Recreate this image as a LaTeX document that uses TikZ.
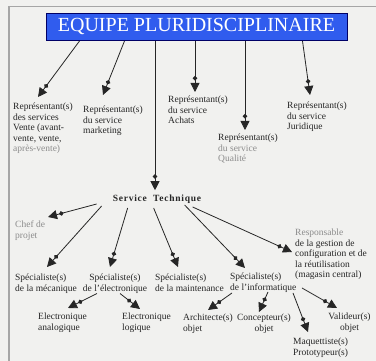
\documentclass[tikz,border=0pt]{standalone}
\usepackage{fontspec}
\setmainfont{Liberation Serif}
\usetikzlibrary{arrows.meta}

\definecolor{titleblue}{RGB}{48,92,238}
\definecolor{paper}{RGB}{241,241,239}

\tikzset{
  lbl/.style={align=left,inner sep=0pt,anchor=north west,text=black!85,
    font=\fontsize{9.5}{10.5}\selectfont},
  lblc/.style={lbl,align=center,anchor=north},
  flow/.style={draw=black!85,line width=0.8pt,
    -{Circle[length=4.5pt,sep=2.5pt]Triangle[length=9pt,width=9pt]}},
}
\newcommand{\faded}[1]{\textcolor{black!45}{#1}}

\begin{document}
\begin{tikzpicture}[x=1pt,y=-1pt]
\fill[paper] (0,0) rectangle (376,361);
\useasboundingbox (0,0) rectangle (376,361);
\draw[gray!70,line width=1pt] (9,361) -- (9,7) -- (376,7);

% titre
\node[fill=titleblue,draw=black!60!blue,line width=1pt,text=white,
  minimum width=301,minimum height=27,inner sep=0pt,
  font=\fontsize{20}{24}\selectfont] (equipe) at (196.5,27) {EQUIPE PLURIDISCIPLINAIRE};

% representants
\node[lbl] (vente) at (13,103) {Représentant(s)\\des services\\Vente (avant-\\vente, vente,\\\faded{après-vente)}};
\node[lbl] (marketing) at (83,106) {Représentant(s)\\du service\\marketing};
\node[lbl] (achats) at (168,96) {Représentant(s)\\du service\\Achats};
\node[lbl] (qualite) at (218,134) {Représentant(s)\\\faded{du service}\\\faded{Qualité}};
\node[lbl] (juridique) at (287,102) {Représentant(s)\\du service\\Juridique};

\node[lbl,anchor=base,font=\fontsize{9.5}{10.5}\selectfont\bfseries\addfontfeature{LetterSpace=8}]
  (tech) at (157,202) {Service\ \ Technique};

\draw[flow] ([xshift=34]equipe.south west) -- ([shift={(25,-6)}]vente.north west);
\draw[flow] ([xshift=79]equipe.south west) -- ([shift={(20,-11)}]marketing.north west);
\coordinate (techIn) at ([xshift=-2pt,yshift=5pt]tech.north);
\draw[flow] (equipe.south -| techIn) -- (techIn);
\coordinate (achatsIn) at ([shift={(27,-4)}]achats.north west);
\draw[flow] (equipe.south -| achatsIn) -- (achatsIn);
\coordinate (qualiteIn) at ([shift={(27,-4)}]qualite.north west);
\draw[flow] (equipe.south -| qualiteIn) -- (qualiteIn);
\draw[flow] ([xshift=257]equipe.south west) -- ([shift={(23,-7)}]juridique.north west);

% service technique
\node[lbl] (chef) at (15,221) {\faded{Chef de}\\\faded{projet}};
\node[lbl] (meca) at (15,274) {Spécialiste(s)\\de la mécanique};
\node[lblc] (elec) at (115,274) {Spécialiste(s)\\de l'électronique};
\node[lbl] (maint) at (155,274) {Spécialiste(s)\\de la maintenance};
\node[lbl] (info) at (230,273) {Spécialiste(s)\\de l'informatique};
\node[lbl] (resp) at (295,229) {\faded{Responsable}\\de la gestion de\\configuration et de\\la réutilisation\\(magasin central)};

\draw[flow] ([shift={(-16,2)}]tech.base west) -- ([shift={(33,-4)}]chef.north west);
\draw[flow] ([shift={(-11,4)}]tech.base west) -- ([shift={(32,-7)}]meca.north west);
\draw[flow] ([shift={(15,6)}]tech.base west) -- ([shift={(-5,-7)}]elec.north);
\draw[flow] ([shift={(41,6)}]tech.base west) -- ([shift={(23,-7)}]maint.north west);
\draw[flow] ([shift={(72,3)}]tech.base west) -- ([shift={(15,-5)}]info.north west);
\draw[flow] ([shift={(80,5)}]tech.base west) -- ([shift={(-3,23)}]resp.north west);

% electronique
\node[lbl] (analog) at (38,313) {Electronique\\analogique};
\node[lbl] (logique) at (122,313) {Electronique\\logique};
\draw[flow] ([xshift=-18]elec.south) -- ([shift={(30,-5)}]analog.north west);
\draw[flow] ([xshift=5]elec.south) -- ([shift={(18,-4)}]logique.north west);

% informatique
\node[lbl] (archi) at (183,314) {Architecte(s)\\objet};
\node[lblc] (concep) at (264,314) {Concepteur(s)\\objet};
\node[lbl] (maquet) at (293,338) {Maquettiste(s)\\Prototypeur(s)};
\node[lblc] (valid) at (349.5,313) {Valideur(s)\\objet};
\draw[flow] ([shift={(2,20)}]info.north west) -- ([shift={(25,-4)}]archi.north west);
\draw[flow] ([shift={(38,19)}]info.north west) -- ([shift={(-5,-2)}]concep.north);
\draw[flow] ([shift={(63,20)}]info.north west) -- ([shift={(15,-6)}]maquet.north west);
\draw[flow] ([shift={(72,15)}]info.north west) -- ([shift={(-12.5,-5)}]valid.north);
\end{tikzpicture}
\end{document}
